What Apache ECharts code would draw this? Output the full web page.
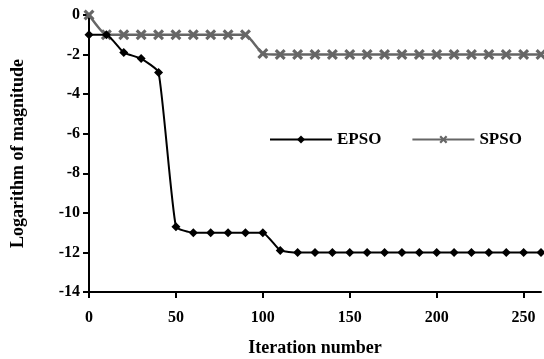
<!DOCTYPE html>
<html>
<head>
<meta charset="utf-8">
<script src="https://cdn.jsdelivr.net/npm/echarts@6/dist/echarts.min.js"></script>
<style>
  html, body { margin: 0; padding: 0; background: #fff; }
  #chart { width: 544px; height: 359px; }
</style>
</head>
<body>
<div id="chart"></div>
<script>
// iteration steps (x)
const iterations = [0, 10, 20, 30, 40, 50, 60, 70, 80, 90, 100, 110, 120, 130,
  140, 150, 160, 170, 180, 190, 200, 210, 220, 230, 240, 250, 260];

// log10 magnitude
const epso = [-1, -1, -1.9, -2.2, -2.9, -10.7, -11, -11, -11, -11, -11, -11.9,
  -12, -12, -12, -12, -12, -12, -12, -12, -12, -12, -12, -12, -12, -12, -12];
const spso = [0, -1, -1, -1, -1, -1, -1, -1, -1, -1, -1.95, -2,
  -2, -2, -2, -2, -2, -2, -2, -2, -2, -2, -2, -2, -2, -2, -2];

const seriesNames = ['EPSO', 'SPSO'];

const FONT = '"Liberation Serif", "DejaVu Serif", serif';
const crossIcon = 'path://M0,2L2,0L5,3L8,0L10,2L7,5L10,8L8,10L5,7L2,10L0,8L3,5Z';

const pair = (ys) => iterations.map((x, i) => [x, ys[i]]);

const chart = echarts.init(document.getElementById('chart'));

chart.setOption({
  animation: false,
  backgroundColor: '#fff',
  textStyle: { fontFamily: FONT },
  grid: { left: 89, right: 3, top: 15, bottom: 67, containLabel: false, outerBoundsMode: 'none' },
  legend: {
    left: 264,
    top: 126,
    itemWidth: 62,
    itemHeight: 10,
    itemGap: 30,
    textStyle: { fontFamily: FONT, fontSize: 17, fontWeight: 'bold', color: '#000' },
    data: seriesNames
  },
  xAxis: {
    type: 'value',
    min: 0,
    max: 260,
    interval: 50,
    name: 'Iteration number',
    nameLocation: 'middle',
    nameGap: 47,
    nameTextStyle: { fontFamily: FONT, fontSize: 18, fontWeight: 'bold', color: '#000' },
    axisLine: { onZero: false, lineStyle: { color: '#000', width: 2 } },
    axisTick: { length: 6, lineStyle: { color: '#000', width: 2 } },
    axisLabel: { fontFamily: FONT, fontSize: 16, fontWeight: 'bold', color: '#000', margin: 18 },
    splitLine: { show: false }
  },
  yAxis: {
    type: 'value',
    min: -14,
    max: 0,
    interval: 2,
    name: 'Logarithm of magnitude',
    nameLocation: 'middle',
    nameGap: 62,
    nameTextStyle: { fontFamily: FONT, fontSize: 18, fontWeight: 'bold', color: '#000' },
    axisLine: { show: true, onZero: false, lineStyle: { color: '#000', width: 2 } },
    axisTick: { show: true, length: 6, lineStyle: { color: '#000', width: 2 } },
    axisLabel: { fontFamily: FONT, fontSize: 16, fontWeight: 'bold', color: '#000', margin: 9 },
    splitLine: { show: false }
  },
  series: [
    {
      name: 'EPSO',
      type: 'line',
      data: pair(epso),
      smooth: 0.15,
      symbol: 'diamond',
      symbolSize: 9,
      lineStyle: { color: '#000', width: 2 },
      itemStyle: { color: '#000' },
      z: 3
    },
    {
      name: 'SPSO',
      type: 'line',
      data: pair(spso),
      smooth: 0.15,
      symbol: crossIcon,
      symbolSize: 11,
      lineStyle: { color: '#666', width: 2.5 },
      itemStyle: { color: '#666' },
      z: 2
    }
  ]
});
</script>
</body>
</html>
